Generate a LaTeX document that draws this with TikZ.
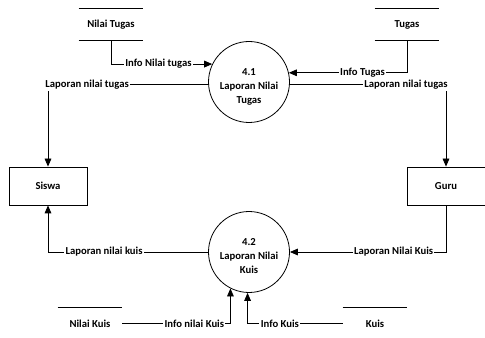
\documentclass[tikz,border=0pt]{standalone}
\usepackage{fontspec}
\setmainfont{Carlito}
\usetikzlibrary{arrows.meta,positioning}

\begin{document}
\begin{tikzpicture}[
  x=0.75pt, y=-0.75pt,
  font=\fontsize{8}{10.5}\selectfont\bfseries,
  line width=0.6pt,
  proc/.style={circle, draw, minimum size=60.75pt, inner sep=0pt, align=center},
  entity/.style={rectangle, draw, minimum width=58.5pt, minimum height=28.5pt},
  store/.style={rectangle, minimum width=48pt, minimum height=23.25pt},
  flow/.style={-{Triangle[length=6pt,width=5pt]}},
  lbl/.style={fill=white, inner sep=1pt}
]
\useasboundingbox (0,0) rectangle (485,338);
\clip (0,0) rectangle (485,338);

% processes (the strut pushes the text block a little lower)
\node[proc] (p1) at (249,82) {\rule{0pt}{12pt}4.1\\Laporan Nilai\\Tugas};
\node[proc] (p2) at (249,252) {\rule{0pt}{11pt}4.2\\Laporan Nilai\\Kuis};

% external entities
\node[entity] (siswa) at (48,186) {Siswa};
\node[entity] (guru) at (446,186) {Guru};

% data stores
\node[store] (nt) at (111,24.5) {Nilai Tugas};
\node[store] (tgs) at (407,24.5) {Tugas};
\node[store] (nk) at (90,323.5) {Nilai Kuis};
\node[store] (kui) at (375,323.5) {Kuis};
\foreach \s in {nt,tgs,nk,kui}
  \draw (\s.north west) -- (\s.north east) (\s.south west) -- (\s.south east);

% data flows
\draw[flow] (nt.south) |- node[lbl, pos=0.734] {Info Nilai tugas} (p1.154);
\draw[flow] (tgs.south) |- node[lbl, pos=0.688] {Info Tugas} (p1.13);
\draw[flow] (p1.184) -| node[lbl, pos=0.5, anchor=west, xshift=-3.2pt] {Laporan nilai tugas} (siswa.north);
\draw[flow] (p1.356) -| node[lbl, pos=0.5, anchor=east, xshift=2.5pt] {Laporan nilai tugas} (guru.north);
\draw[flow] (guru.south) |- node[lbl, pos=0.668] {Laporan Nilai Kuis} (p2.east);
\draw[flow] (p2.west) -| node[lbl, pos=0.325] {Laporan nilai kuis} (siswa.south);
\draw[flow] (nk.east) -| node[lbl, pos=0.333] {Info nilai Kuis} (p2.243);
\draw[flow] (kui.west) -| node[lbl, pos=0.33] {Info Kuis} (p2.268);
\end{tikzpicture}
\end{document}
